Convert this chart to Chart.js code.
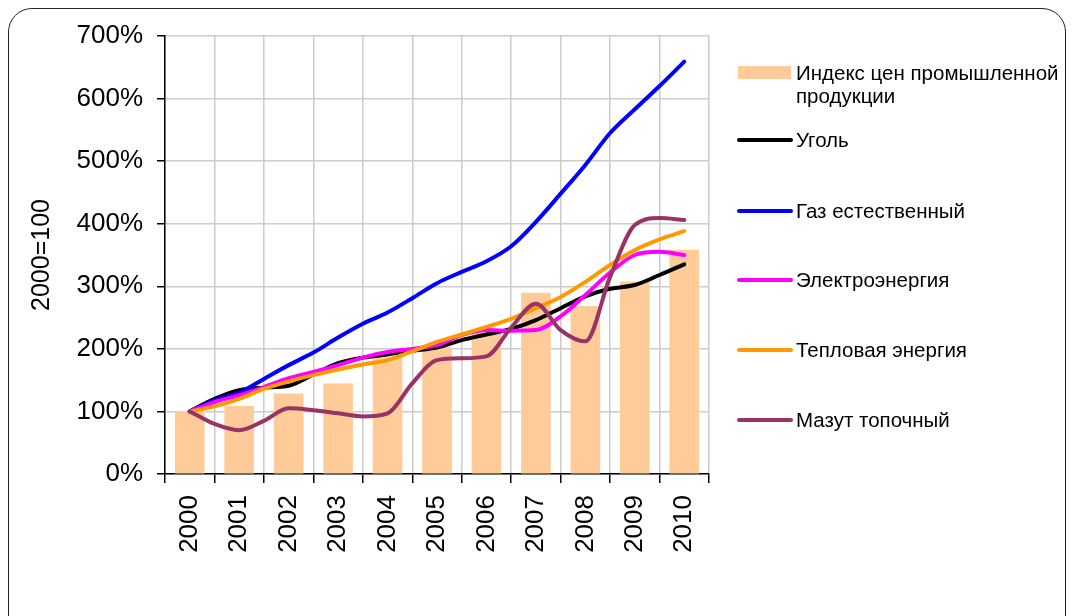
<!DOCTYPE html>
<html>
<head>
<meta charset="utf-8">
<title>Индексы цен</title>
<script src="https://cdn.jsdelivr.net/npm/chart.js"></script>
<style>
  body { margin: 0; background: #fff; font-family: "Liberation Sans", Arial, sans-serif; }
  #wrap { position: relative; width: 1073px; height: 616px; overflow: hidden; }
  #frame { position: absolute; left: 8px; top: 8px; width: 1056px; height: 660px; border: 1px solid #222; border-radius: 24px; }
  #chart { position: absolute; left: 0; top: 0; }
  .lg { position: absolute; left: 737px; width: 336px; font-size: 20.5px; line-height: 23px; color: #000; }
  .lg .sw { position: absolute; left: 0; }
  .lg .tx { position: absolute; left: 59px; top: 0; width: 270px; }
</style>
</head>
<body>
<div id="wrap">
  <div id="frame"></div>
  <canvas id="chart" width="1073" height="616"></canvas>
  <div id="legend"></div>
</div>
<script>
// categories
var years = ['2000', '2001', '2002', '2003', '2004', '2005', '2006', '2007', '2008', '2009', '2010'];
// half-year positions of the line series
var halfYears = [2000, 2000.5, 2001, 2001.5, 2002, 2002.5, 2003, 2003.5, 2004, 2004.5, 2005,
                 2005.5, 2006, 2006.5, 2007, 2007.5, 2008, 2008.5, 2009, 2009.5, 2010];

// series values, 2000 = 100
var industryIndex = [100, 108, 128, 144, 186, 202, 228, 289, 268, 307, 358];
var coal    = [100, 120, 134, 138, 141, 159, 177, 186, 191, 197, 202, 214, 223, 232, 246, 265, 284, 296, 302, 318, 335];
var gas     = [100, 118, 130, 152, 174, 194, 218, 240, 258, 281, 305, 323, 340, 364, 403, 448, 494, 545, 583, 620, 659];
var power   = [100, 115, 126, 139, 153, 163, 174, 186, 195, 200, 206, 222, 230, 229, 230, 252, 286, 322, 350, 355, 350];
var heat    = [100, 108, 120, 136, 148, 158, 167, 175, 182, 196, 211, 223, 235, 248, 265, 283, 307, 334, 358, 375, 388];
var fuelOil = [100, 80, 70, 85, 105, 102, 97, 92, 97, 145, 182, 185, 188, 234, 272, 230, 212, 315, 398, 409, 406];

var yTickSuffix = '%';

function points(values) {
    return halfYears.map(function (t, i) { return { x: t, y: values[i] }; });
}

function lineSet(label, values, color, order) {
    return {
        type: 'line',
        label: label,
        data: points(values),
        xAxisID: 'x2',
        borderColor: color,
        backgroundColor: color,
        borderWidth: 4,
        pointRadius: 0,
        fill: false,
        cubicInterpolationMode: 'monotone',
        borderCapStyle: 'round',
        borderJoinStyle: 'round',
        order: order
    };
}

var datasets = [
    {
        type: 'bar',
        label: 'Индекс цен промышленной продукции',
        data: industryIndex,
        xAxisID: 'x',
        backgroundColor: '#FFCC99',
        grouped: false,
        barThickness: 29,
        order: 5
    },
    lineSet('Уголь', coal, '#000000', 4),
    lineSet('Газ естественный', gas, '#0000FF', 3),
    lineSet('Электроэнергия', power, '#FF00FF', 2),
    lineSet('Тепловая энергия', heat, '#FF9900', 1),
    lineSet('Мазут топочный', fuelOil, '#993366', 0)
];

var font = { family: '"Liberation Sans", Arial, sans-serif', size: 26 };

new Chart(document.getElementById('chart'), {
    type: 'bar',
    data: { labels: years, datasets: datasets },
    options: {
        responsive: false,
        animation: false,
        layout: { padding: { left: 0, top: 36, right: 364, bottom: 0 } },
        plugins: { legend: { display: false }, tooltip: { enabled: false } },
        scales: {
            x: {
                type: 'category',
                offset: true,
                grid: { offset: true, color: '#cccccc', lineWidth: 1.5, tickColor: '#000', tickLength: 9 },
                border: { color: '#000', width: 1.5 },
                ticks: { color: '#000', font: font, minRotation: 90, maxRotation: 90, autoSkip: false, padding: 12 },
                afterFit: function (scale) { scale.height = 142; }
            },
            x2: {
                type: 'linear',
                display: false,
                offset: false,
                min: 1999.5,
                max: 2010.5
            },
            y: {
                min: 0,
                max: 700,
                ticks: {
                    stepSize: 100,
                    color: '#000',
                    font: font,
                    padding: 14,
                    callback: function (v) { return v + yTickSuffix; }
                },
                grid: { color: '#cccccc', lineWidth: 1.5, tickColor: '#000', tickLength: 8 },
                border: { color: '#000', width: 1.5 },
                title: {
                    display: true,
                    text: '2000=100',
                    color: '#000',
                    font: { family: font.family, size: 25 },
                    padding: { top: 27, bottom: 0 }
                },
                afterFit: function (scale) { scale.width = 165; }
            }
        }
    }
});

// legend on the right, in the original order
var legendTops = [61, 128, 199, 268, 338, 408];
var legend = document.getElementById('legend');
datasets.forEach(function (ds, i) {
    var item = document.createElement('div');
    item.className = 'lg';
    item.style.top = legendTops[i] + 'px';
    var sw = document.createElement('div');
    sw.className = 'sw';
    if (ds.type === 'bar') {
        sw.style.cssText = 'left:1px;top:5px;width:53px;height:13px;background:' + ds.backgroundColor;
    } else {
        sw.style.cssText = 'top:10px;width:56px;height:4px;border-radius:2px;background:' + ds.borderColor;
    }
    var tx = document.createElement('div');
    tx.className = 'tx';
    tx.textContent = ds.label;
    item.appendChild(sw);
    item.appendChild(tx);
    legend.appendChild(item);
});
</script>
</body>
</html>
